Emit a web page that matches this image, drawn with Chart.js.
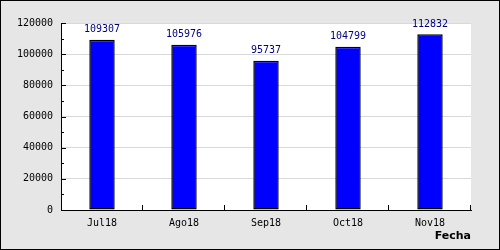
<!DOCTYPE html>
<html>
<head>
<meta charset="utf-8">
<script src="https://cdn.jsdelivr.net/npm/chart.js@4"></script>
<style>
  body { margin: 0; background: #e6e6e6; }
  canvas { display: block; }
</style>
</head>
<body>
<canvas id="ventas" width="500" height="250"></canvas>
<script>
const months = ["Jul18", "Ago18", "Sep18", "Oct18", "Nov18"];
const totals = [109307, 105976, 95737, 104799, 112832];
const yTicks = [0, 20000, 40000, 60000, 80000, 100000, 120000];

const monoFont = "'DejaVu Sans Mono', monospace";

// plot background, inward tick marks, value labels and the outer frame
const framePlugin = {
  id: 'frame',
  beforeDraw(chart) {
    const ctx = chart.ctx;
    const area = chart.chartArea;
    ctx.save();
    ctx.fillStyle = '#e6e6e6';
    ctx.fillRect(0, 0, chart.width, chart.height);
    ctx.fillStyle = '#ffffff';
    ctx.fillRect(area.left, area.top, area.right - area.left, area.bottom - area.top);
    ctx.restore();
  },
  afterDatasetsDraw(chart) {
    const ctx = chart.ctx;
    const x = chart.scales.x;
    const y = chart.scales.y;
    ctx.save();
    ctx.strokeStyle = '#000000';
    ctx.lineWidth = 1;
    ctx.beginPath();
    for (let v = 0; v <= 120000; v += 10000) {
      const py = Math.round(y.getPixelForValue(v)) + 0.5;
      const len = v % 20000 === 0 ? 5 : 3;
      ctx.moveTo(x.left, py);
      ctx.lineTo(x.left + len, py);
    }
    for (let i = 0; i < months.length; i++) {
      const px = Math.round(x.getPixelForValue(i + 0.5)) - 0.5;
      ctx.moveTo(px, y.bottom);
      ctx.lineTo(px, y.bottom - 5);
    }
    ctx.stroke();

    ctx.fillStyle = '#000080';
    ctx.font = '10px ' + monoFont;
    ctx.textAlign = 'center';
    ctx.textBaseline = 'bottom';
    chart.getDatasetMeta(0).data.forEach((bar, i) => {
      ctx.fillText(totals[i], bar.x, bar.y - 5);
    });

    ctx.strokeRect(0.5, 0.5, chart.width - 1, chart.height - 1);
    ctx.restore();
  }
};

new Chart(document.getElementById('ventas'), {
  type: 'bar',
  data: {
    labels: months,
    datasets: [{
      data: totals,
      backgroundColor: '#0000ff',
      borderColor: '#000000',
      borderWidth: 1.5,
      borderSkipped: false,
      categoryPercentage: 1,
      barPercentage: 0.31
    }]
  },
  options: {
    responsive: false,
    animation: false,
    layout: { padding: { top: 23, right: 29, left: 0, bottom: 0 } },
    plugins: {
      legend: { display: false },
      tooltip: { enabled: false }
    },
    scales: {
      x: {
        grid: { display: false, drawTicks: false },
        border: { display: true, color: '#000000', width: 1 },
        ticks: { color: '#000000', font: { family: monoFont, size: 10 }, padding: 7 },
        title: {
          display: true,
          text: 'Fecha',
          align: 'end',
          color: '#000000',
          font: { family: "'DejaVu Sans', sans-serif", size: 11, weight: 'bold' },
          padding: { top: 0, bottom: 7 }
        },
        afterFit(scale) { scale.height = 40; }
      },
      y: {
        min: 0,
        max: 120000,
        afterBuildTicks(scale) { scale.ticks = yTicks.map(v => ({ value: v })); },
        grid: { color: '#d9d9d9', lineWidth: 1, drawTicks: false },
        border: { display: true, color: '#000000', width: 1 },
        ticks: {
          color: '#000000',
          font: { family: monoFont, size: 10 },
          padding: 8,
          callback: value => String(value)
        },
        afterFit(scale) { scale.width = 61; }
      }
    }
  },
  plugins: [framePlugin]
});
</script>
</body>
</html>
